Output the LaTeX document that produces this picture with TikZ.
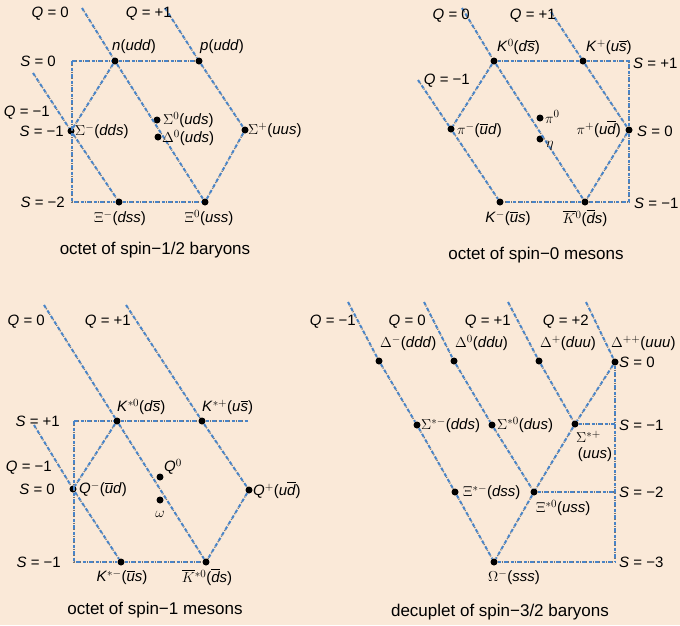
\documentclass[tikz,border=0pt]{standalone}
\usepackage{amsmath}
\usepackage{fontspec}
\setmainfont{Liberation Sans}
\usepackage{tikz}
\usetikzlibrary{positioning}
\usepackage{xcolor}
\definecolor{paper}{RGB}{250,233,216}
\definecolor{qblue}{RGB}{72,132,200}
\newcommand{\bq}[1]{\ensuremath{\overline{\mbox{\itshape #1}}}}
\newcommand{\qk}[1]{\textit{#1}}

\begin{document}
\begin{tikzpicture}[x=1pt, y=-1pt,
      qline/.style={draw=qblue, line width=2pt, dash pattern=on 3.5pt off 3pt,
        preaction={draw=black!55, line width=1.4pt, dash pattern=on 1pt off 5.5pt, dash phase=-4pt}},
      dot/.style={circle, fill=black, inner sep=0pt, minimum size=7pt},
      lbl/.style={inner sep=1pt, font=\fontsize{15}{17}\selectfont},
      caption/.style={font=\fontsize{17}{19}\selectfont}]
      % Background
      \fill[paper] (0,0) rectangle (680,625);
      \useasboundingbox (0,0) rectangle (680,625);

      % ---------- octet of spin-1/2 baryons ----------
      \node[dot] (n) at (115,61) {};
      \node[dot] (p) at (199,61) {};
      \node[dot] (sm) at (71,131) {};
      \node[dot] (s0) at (157,120) {};
      \node[dot] (l0) at (158,137) {};
      \node[dot] (sp) at (245,130) {};
      \node[dot] (xm) at (119,202) {};
      \node[dot] (x0) at (205,202) {};
      \coordinate (a1) at (72,61);
      \coordinate (a2) at (72,202);
      \coordinate (aq0) at (82,8);
      \coordinate (aq1) at (165,8);
      \coordinate (aqm) at (33,73);
      % S and Q lines
      \draw[qline] (a1) -- (n) -- (p);
      \draw[qline] (a1) -- (a2) -- (xm) -- (x0);
      \draw[qline] (aq0) -- (n) -- (x0);
      \draw[qline] (aq1) -- (p) -- (sp);
      \draw[qline] (aqm) -- (sm) -- (xm);
      \draw[qline] (n) -- (sm);
      \draw[qline] (sp) -- (x0);
      % labels
      \node[lbl, anchor=east] (aq0-l) at (70,14) {\qk{Q} = 0};
      \node[lbl, anchor=east] (aq1-l) at (173,14) {\qk{Q} = +1};
      \node[lbl, anchor=east] (as0-l) at (57,61) {\qk{S} = 0};
      \node[lbl, anchor=east] (aqm-l) at (51,113) {\qk{Q} = −1};
      \node[lbl, anchor=east] (as1-l) at (65,131) {\qk{S} = −1};
      \node[lbl, anchor=east] (as2-l) at (66,202) {\qk{S} = −2};
      \node[lbl, anchor=west] (n-l) at (111,47) {\qk{n}(\qk{udd})};
      \node[lbl, anchor=west] (p-l) at (199,47) {\qk{p}(\qk{udd})};
      \node[lbl, anchor=west] (sm-l) at (74,131) {$\Sigma^-$(\qk{dds})};
      \node[lbl, anchor=west] (s0-l) at (162,120) {$\Sigma^0$(\qk{uds})};
      \node[lbl, anchor=west] (l0-l) at (161,138) {$\Delta^0$(\qk{uds})};
      \node[lbl, anchor=west] (sp-l) at (247,130) {$\Sigma^+$(\qk{uus})};
      \node[lbl] (xm-l) at (120,218) {$\Xi^-$(\qk{dss})};
      \node[lbl] (x0-l) at (209,218) {$\Xi^0$(\qk{uss})};
      \node[caption] (a-cap) at (155,250) {octet of spin−1/2 baryons};

      % ---------- octet of spin-0 mesons ----------
      \node[dot] (k0) at (494,61) {};
      \node[dot] (kp) at (583,61) {};
      \node[dot] (pim) at (451,129) {};
      \node[dot] (pi0) at (540,118) {};
      \node[dot] (eta) at (540,139) {};
      \node[dot] (pip) at (629,130) {};
      \node[dot] (km) at (500,202) {};
      \node[dot] (k0b) at (585,202) {};
      \coordinate (b1) at (629,61);
      \coordinate (b2) at (629,202);
      \coordinate (bq0) at (462,8);
      \coordinate (bq1) at (551,12);
      \coordinate (bqm) at (418,80);
      % S and Q lines
      \draw[qline] (k0) -- (kp) -- (b1) -- (pip) -- (b2) -- (k0b) -- (km);
      \draw[qline] (bq0) -- (k0) -- (k0b);
      \draw[qline] (bq1) -- (kp) -- (pip);
      \draw[qline] (bqm) -- (pim) -- (km);
      \draw[qline] (k0) -- (pim);
      \draw[qline] (pip) -- (k0b);
      % labels
      \node[lbl, anchor=east] (bq0-l) at (471,16) {\qk{Q} = 0};
      \node[lbl, anchor=east] (bq1-l) at (557,16) {\qk{Q} = +1};
      \node[lbl, anchor=east] (bqm-l) at (471,81) {\qk{Q} = −1};
      \node[lbl, anchor=west] (bs1-l) at (632,63) {\qk{S} = +1};
      \node[lbl, anchor=west] (bs0-l) at (636,131) {\qk{S} = 0};
      \node[lbl, anchor=west] (bsm-l) at (633,203) {\qk{S} = −1};
      \node[lbl, anchor=west] (k0-l) at (496,47) {\qk{K}$^0$(\qk{d}\bq{s})};
      \node[lbl, anchor=west] (kp-l) at (585,47) {\qk{K}$^+$(\qk{u}\bq{s})};
      \node[lbl, anchor=west] (pim-l) at (456,130) {$\pi^-$(\bq{u}\qk{d})};
      \node[lbl, anchor=west] (pi0-l) at (544,117) {$\pi^0$};
      \node[lbl, anchor=west] (eta-l) at (545,146) {$\eta$};
      \node[lbl, anchor=east] (pip-l) at (622,129) {$\pi^+$(\qk{u}\bq{d})};
      \node[lbl] (km-l) at (508,218) {\qk{K}$^-$(\bq{u}\qk{s})};
      \node[lbl] (k0b-l) at (585,218) {$\overline{K}{}^0$(\bq{d}\qk{s})};
      \node[caption] (b-cap) at (536,255) {octet of spin−0 mesons};

      % ---------- octet of spin-1 mesons ----------
      \node[dot] (ks0) at (117,421) {};
      \node[dot] (ksp) at (202,421) {};
      \node[dot] (rm) at (73,489) {};
      \node[dot] (r0) at (160,477) {};
      \node[dot] (om) at (160,500) {};
      \node[dot] (rp) at (249,490) {};
      \node[dot] (ksm) at (121,562) {};
      \node[dot] (ks0b) at (206,562) {};
      \coordinate (c1) at (74,421);
      \coordinate (c2) at (74,562);
      \coordinate (c3) at (248,421);
      \coordinate (cq0) at (44,305);
      \coordinate (cq1) at (126,305);
      \coordinate (cqm) at (34,425);
      % S and Q lines
      \draw[qline] (c1) -- (ks0) -- (ksp) -- (c3);
      \draw[qline] (c1) -- (c2) -- (ksm) -- (ks0b);
      \draw[qline] (cq0) -- (ks0) -- (ks0b);
      \draw[qline] (cq1) -- (ksp) -- (rp);
      \draw[qline] (cqm) -- (rm) -- (ksm);
      \draw[qline] (ks0) -- (rm);
      \draw[qline] (rp) -- (ks0b);
      % labels
      \node[lbl, anchor=east] (cq0-l) at (46,322) {\qk{Q} = 0};
      \node[lbl, anchor=east] (cq1-l) at (132,322) {\qk{Q} = +1};
      \node[lbl, anchor=east] (cs1-l) at (61,421) {\qk{S} = +1};
      \node[lbl, anchor=east] (cqm-l) at (53,468) {\qk{Q} = −1};
      \node[lbl, anchor=east] (cs0-l) at (56,489) {\qk{S} = 0};
      \node[lbl, anchor=east] (csm-l) at (62,562) {\qk{S} = −1};
      \node[lbl, anchor=west] (ks0-l) at (116,407) {\qk{K}$^{*0}$(\qk{d}\bq{s})};
      \node[lbl, anchor=west] (ksp-l) at (201,407) {\qk{K}$^{*+}$(\qk{u}\bq{s})};
      \node[lbl, anchor=west] (rm-l) at (78,489) {\qk{Q}$^-$(\bq{u}\qk{d})};
      \node[lbl, anchor=west] (r0-l) at (163,467) {\qk{Q}$^0$};
      \node[lbl] (om-l) at (160,514) {$\omega$};
      \node[lbl, anchor=west] (rp-l) at (252,490) {\qk{Q}$^+$(\qk{u}\bq{d})};
      \node[lbl] (ksm-l) at (122,577) {\qk{K}$^{*-}$(\bq{u}\qk{s})};
      \node[lbl] (ks0b-l) at (207,577) {$\overline{K}{}^{*0}$(\bq{d}\qk{s})};
      \node[caption] (c-cap) at (155,610) {octet of spin−1 mesons};

      % ---------- decuplet of spin-3/2 baryons ----------
      \node[dot] (dm) at (379,361) {};
      \node[dot] (d0) at (454,361) {};
      \node[dot] (dp) at (539,361) {};
      \node[dot] (dpp) at (615,362) {};
      \node[dot] (ssm) at (417,425) {};
      \node[dot] (ss0) at (492,425) {};
      \node[dot] (ssp) at (575,424) {};
      \node[dot] (xsm) at (455,492) {};
      \node[dot] (xs0) at (534,492) {};
      \node[dot] (omm) at (494,562) {};
      \coordinate (dqa) at (348,302);
      \coordinate (dqb) at (424,302);
      \coordinate (dqc) at (508,302);
      \coordinate (dqd) at (586,302);
      \coordinate (r1) at (615,424);
      \coordinate (r2) at (615,492);
      \coordinate (r3) at (615,562);
      % S and Q lines
      \draw[qline] (dqa) -- (dm) -- (ssm) -- (xsm) -- (omm);
      \draw[qline] (dqb) -- (d0) -- (ss0) -- (xs0);
      \draw[qline] (dqc) -- (dp) -- (ssp);
      \draw[qline] (dqd) -- (dpp);
      \draw[qline] (dpp) -- (ssp) -- (xs0) -- (omm);
      \draw[qline] (dpp) -- (r1) -- (r2) -- (r3);
      \draw[qline] (ssp) -- (r1);
      \draw[qline] (xs0) -- (r2);
      \draw[qline] (omm) -- (r3);
      % labels
      \foreach \q/\x/\k in {−1/357/a,0/427/b,+1/512/c,+2/590/d}
        \node[lbl, anchor=east] (dq\k-l) at (\x,322) {\qk{Q} = \q};
      \foreach \s/\y/\k in {0/362/a,−1/425/b,−2/492/c,−3/562/d}
        \node[lbl, anchor=west] (ds\k-l) at (618,\y) {\qk{S} = \s};
      \node[lbl, anchor=west] (dm-l) at (379,343) {$\Delta^-$(\qk{ddd})};
      \node[lbl, anchor=west] (d0-l) at (454,343) {$\Delta^0$(\qk{ddu})};
      \node[lbl, anchor=west] (dp-l) at (539,343) {$\Delta^+$(\qk{duu})};
      \node[lbl, anchor=west] (dpp-l) at (610,343) {$\Delta^{++}$(\qk{uuu})};
      \node[lbl, anchor=west] (ssm-l) at (420,425) {$\Sigma^{*-}$(\qk{dds})};
      \node[lbl, anchor=west] (ss0-l) at (496,425) {$\Sigma^{*0}$(\qk{dus})};
      \node[lbl, anchor=west] (ssp-l) at (575,437) {$\Sigma^{*+}$};
      \node[lbl] (ssp-l2) at (595,455) {(\qk{uus})};
      \node[lbl, anchor=west] (xsm-l) at (462,492) {$\Xi^{*-}$(\qk{dss})};
      \node[lbl, anchor=west] (xs0-l) at (535,508) {$\Xi^{*0}$(\qk{uss})};
      \node[lbl] (omm-l) at (514,577) {$\Omega^-$(\qk{sss})};
      \node[caption] (d-cap) at (500,612) {decuplet of spin−3/2 baryons};
    \end{tikzpicture}
\end{document}
